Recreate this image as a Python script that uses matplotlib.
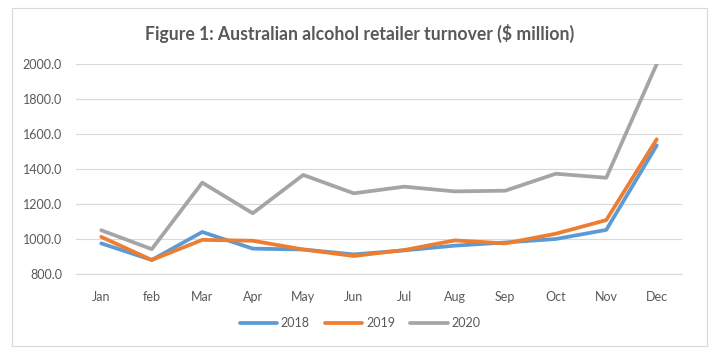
import matplotlib.pyplot as plt
from matplotlib.patches import Rectangle

months = ['Jan', 'feb', 'Mar', 'Apr', 'May', 'Jun', 'Jul', 'Aug', 'Sep', 'Oct', 'Nov', 'Dec']
t2018 = [975, 880, 1040, 945, 940, 912, 935, 962, 980, 1000, 1052, 1535]
t2019 = [1012, 880, 995, 990, 940, 903, 937, 992, 975, 1030, 1108, 1570]
t2020 = [1050, 942, 1322, 1147, 1366, 1261, 1299, 1272, 1276, 1373, 1350, 2000]
yticks = [800, 1000, 1200, 1400, 1600, 1800, 2000]

plt.rcParams['font.family'] = ['Lato', 'DejaVu Sans']
grey = '#595959'

fig = plt.figure(figsize=(7.2, 3.56), dpi=100)
fig.patches.append(Rectangle((12 / 720, 1 - 346 / 356), 695 / 720, 338 / 356,
                             transform=fig.transFigure, fill=False,
                             edgecolor='#D9D9D9', linewidth=0.8))

ax = fig.add_axes([76 / 720, 1 - 274 / 356, 606 / 720, 210 / 356])
x = range(len(months))
ax.plot(x, t2018, color='#5B9BD5', lw=2.7, label='2018', solid_capstyle='round')
ax.plot(x, t2019, color='#ED7D31', lw=2.7, label='2019', solid_capstyle='round')
ax.plot(x, t2020, color='#A5A5A5', lw=2.7, label='2020', solid_capstyle='round')

ax.set_xlim(-0.5, 11.5)
ax.set_ylim(800, 2000)
ax.set_yticks(yticks)
ax.set_yticklabels([f'{v:.1f}' for v in yticks])
ax.set_xticks(list(x))
ax.set_xticklabels(months)
ax.grid(axis='y', color='#D9D9D9', lw=0.8)
ax.set_axisbelow(True)
for s in ['top', 'right', 'left']:
    ax.spines[s].set_visible(False)
ax.spines['bottom'].set_color('#D9D9D9')
ax.tick_params(length=0, colors=grey, labelsize=9)
ax.tick_params(axis='x', pad=12)
ax.tick_params(axis='y', pad=10)

fig.text(0.5, 1 - 33 / 356, 'Figure 1: Australian alcohol retailer turnover ($ million)',
         ha='center', va='center', fontsize=12.7, fontweight='bold', color=grey)
fig.legend(loc='center', bbox_to_anchor=(0.5, 1 - 323 / 356), ncol=3, frameon=False,
           fontsize=9, handlelength=3, columnspacing=1.2, handletextpad=0.3,
           labelcolor=grey)

fig.savefig('out.png', dpi=100)
